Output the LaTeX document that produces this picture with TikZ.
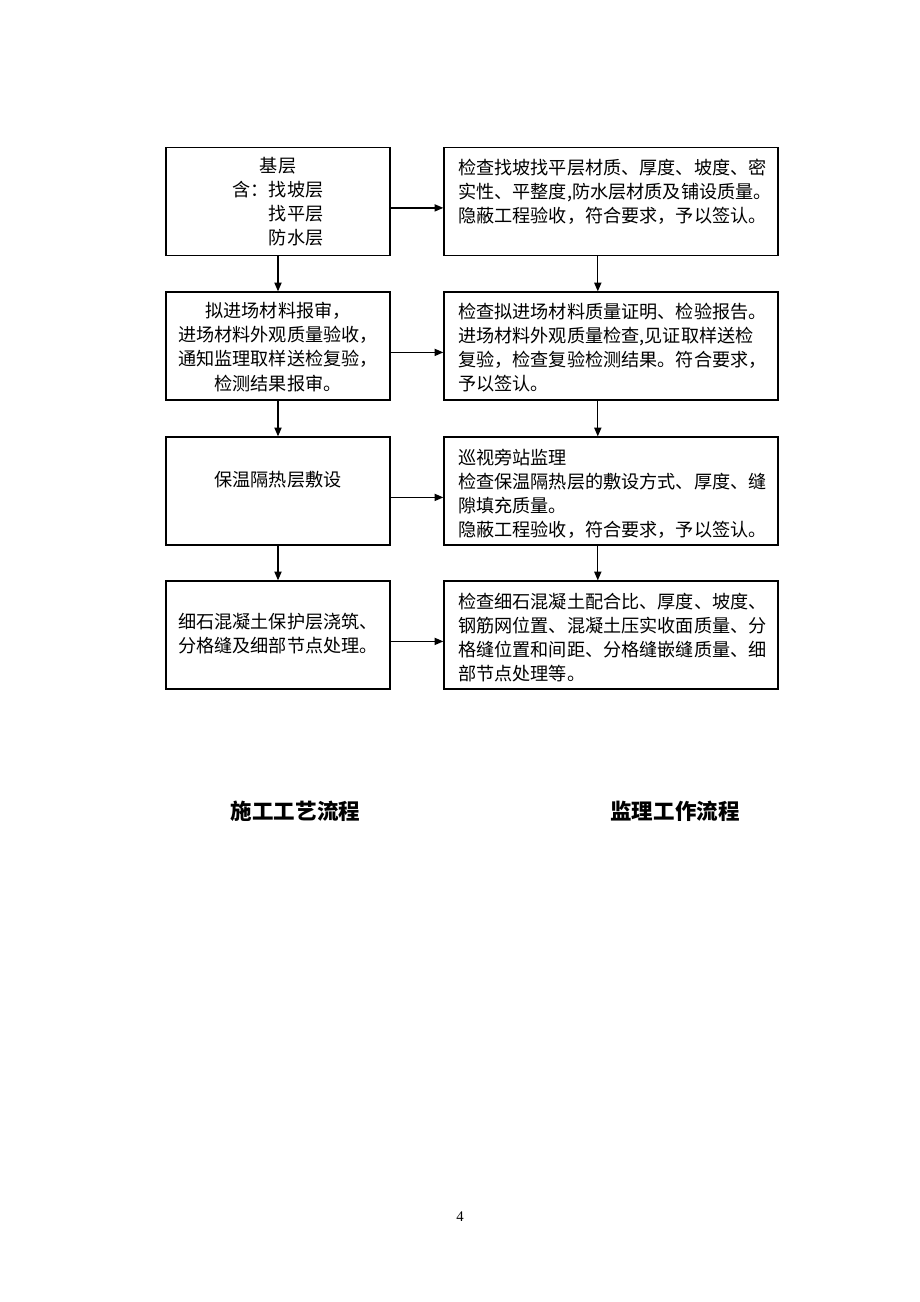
\documentclass[tikz,border=0pt]{standalone}
\usepackage{fontspec}
\setmainfont{Liberation Serif}
\newfontfamily\cjk{Noto Sans CJK SC}
\usetikzlibrary{arrows.meta}
\tikzset{
	lbox/.style={draw, line width=0.9pt, minimum width=5.6cm, minimum height=2.7cm, inner sep=0pt},
	rbox/.style={draw, line width=0.9pt, minimum width=8.35cm, minimum height=2.7cm, inner sep=0pt},
	ltext/.style={align=center, inner sep=0pt, font=\cjk\fontsize{12.9pt}{17.1pt}\selectfont},
	rtext/.style={align=left, anchor=north west, inner sep=0pt, font=\cjk\fontsize{12.9pt}{17.1pt}\selectfont},
	titel/.style={inner sep=0pt, font=\cjk\bfseries\fontsize{15.3pt}{18pt}\selectfont},
	pfeil/.style={-{Triangle[length=2.2mm,width=1.8mm]}, line width=0.9pt}
}
\begin{document}
\begin{tikzpicture}[x=0.025cm, y=-0.025cm]
	\useasboundingbox (0,0) rectangle (920,1302);
	% Kaesten links
	\node[lbox] (l1) at (278, 201.5) {};
	\node[lbox] (l2) at (278, 346) {};
	\node[lbox] (l3) at (278, 491) {};
	\node[lbox] (l4) at (278, 635) {};
	% Kaesten rechts
	\node[rbox] (r1) at (611, 201.5) {};
	\node[rbox] (r2) at (611, 346) {};
	\node[rbox] (r3) at (611, 491) {};
	\node[rbox] (r4) at (611, 635) {};

	% Texte links
	\node[ltext] (tl1) at (278, 202) {基层\\含：找坡层\\\phantom{含：}找平层\\\phantom{含：}防水层};
	\node[ltext] (tl2) at (278, 347) {拟进场材料报审，\\进场材料外观质量验收，\\通知监理取样送检复验，\\检测结果报审。};
	\node[ltext] (tl3) at (278, 480) {保温隔热层敷设};
	\node[ltext] (tl4) at (278, 634) {细石混凝土保护层浇筑、\\分格缝及细部节点处理。};
	% Texte rechts
	\node[rtext] (tr1) at (458, 159) {检查找坡找平层材质、厚度、坡度、密\\实性、平整度,防水层材质及铺设质量。\\隐蔽工程验收，符合要求，予以签认。};
	\node[rtext] (tr2) at (458, 303) {检查拟进场材料质量证明、检验报告。\\进场材料外观质量检查,见证取样送检\\复验，检查复验检测结果。符合要求，\\予以签认。};
	\node[rtext] (tr3) at (458, 449) {巡视旁站监理\\检查保温隔热层的敷设方式、厚度、缝\\隙填充质量。\\隐蔽工程验收，符合要求，予以签认。};
	\node[rtext] (tr4) at (458, 593) {检查细石混凝土配合比、厚度、坡度、\\钢筋网位置、混凝土压实收面质量、分\\格缝位置和间距、分格缝嵌缝质量、细\\部节点处理等。};

	% Pfeile
	\foreach \i/\j in {1/2, 2/3, 3/4} {
		\draw[pfeil] (l\i) -- (l\j);
		\draw[pfeil] ([xshift=-0.33cm]r\i.south) -- ([xshift=-0.33cm]r\j.north);
	}
	\foreach \i in {1,...,4}
		\draw[pfeil] ([yshift=-0.16cm]l\i.east) -- ([yshift=-0.16cm]r\i.west);

	% Ueberschriften
	\node[titel] (t1) at (295.5, 811) {施工工艺流程};
	\node[titel] (t2) at (675, 811) {监理工作流程};
	% Seitenzahl
	\node[inner sep=0pt, font=\fontsize{10.5pt}{12pt}\selectfont] (seite) at (460, 1217) {4};
\end{tikzpicture}
\end{document}
